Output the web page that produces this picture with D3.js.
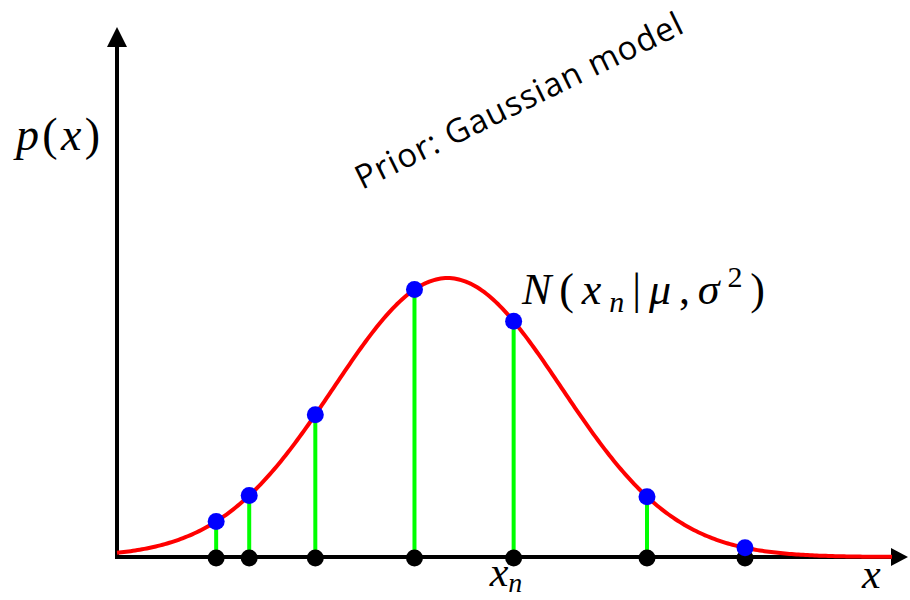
<!DOCTYPE html>
<html>
<head>
<meta charset="utf-8">
<script src="https://cdn.jsdelivr.net/npm/d3@7"></script>
<style>
  body { margin: 0; background: #fff; }
</style>
</head>
<body>
<script>
// Gaussian model parameters (in axis units)
const mu = 0;
const sigma = 1;
// sample positions x_n
const samples = [-2.03, -1.74, -1.16, -0.29, 0.58, 1.75, 2.61];
// axis extents
const xDomain = [-2.9, 4.04];
const yDomain = [0, 0.758];

const width = 910, height = 600;

const svg = d3.select("body").append("svg")
  .attr("width", width)
  .attr("height", height);

const x = d3.scaleLinear().domain(xDomain).range([117, 908]);
const y = d3.scaleLinear().domain(yDomain).range([557, 27]);

const pdf = v => Math.exp(-((v - mu) ** 2) / (2 * sigma * sigma)) / (sigma * Math.sqrt(2 * Math.PI));

// axes with arrow heads
svg.append("line")
  .attr("x1", x(xDomain[0])).attr("y1", y(0))
  .attr("x2", x(xDomain[1]) - 14).attr("y2", y(0))
  .attr("stroke", "#000").attr("stroke-width", 4);
svg.append("line")
  .attr("x1", x(xDomain[0])).attr("y1", y(0) + 2)
  .attr("x2", x(xDomain[0])).attr("y2", y(yDomain[1]) + 18)
  .attr("stroke", "#000").attr("stroke-width", 4);
const xt = x(xDomain[1]), y0 = y(0);
svg.append("path")
  .attr("d", `M${xt},${y0} L${xt - 17},${y0 - 9} L${xt - 17},${y0 + 9} Z`)
  .attr("fill", "#000");
const yt = y(yDomain[1]), x0 = x(xDomain[0]);
svg.append("path")
  .attr("d", `M${x0},${yt} L${x0 - 10},${yt + 20} L${x0 + 10},${yt + 20} Z`)
  .attr("fill", "#000");

// density curve
const grid = d3.range(xDomain[0], xDomain[1] - 0.12, 0.02);
svg.append("path")
  .datum(grid)
  .attr("fill", "none")
  .attr("stroke", "#ff0000")
  .attr("stroke-width", 4)
  .attr("d", d3.line().x(d => x(d)).y(d => y(pdf(d))));

// stems
svg.selectAll(".stem").data(samples).enter().append("line")
  .attr("class", "stem")
  .attr("x1", d => x(d)).attr("y1", y(0))
  .attr("x2", d => x(d)).attr("y2", d => y(pdf(d)))
  .attr("stroke", "#00ff00").attr("stroke-width", 4);

// samples on axis
svg.selectAll(".base").data(samples).enter().append("circle")
  .attr("class", "base")
  .attr("cx", d => x(d)).attr("cy", y(0) + 1)
  .attr("r", 8.5).attr("fill", "#000");

// samples on curve
svg.selectAll(".top").data(samples).enter().append("circle")
  .attr("class", "top")
  .attr("cx", d => x(d)).attr("cy", d => y(pdf(d)))
  .attr("r", 8.5).attr("fill", "#0000ff");

// labels
const serif = "'Liberation Serif', 'DejaVu Serif', serif";

const py = svg.append("text")
  .attr("x", 16).attr("y", 150)
  .attr("textLength", 84).attr("lengthAdjust", "spacing")
  .style("font-family", serif).style("font-size", "46px");
py.append("tspan").style("font-style", "italic").text("p");
py.append("tspan").text("(");
py.append("tspan").style("font-style", "italic").text("x");
py.append("tspan").text(")");

const nl = svg.append("text")
  .attr("x", 522).attr("y", 304)
  .attr("textLength", 243).attr("lengthAdjust", "spacing")
  .style("font-family", serif).style("font-size", "44px");
nl.append("tspan").style("font-style", "italic").text("N");
nl.append("tspan").text("(");
nl.append("tspan").style("font-style", "italic").text("x");
nl.append("tspan").style("font-style", "italic").style("font-size", "30px").attr("dy", 8).text("n");
nl.append("tspan").attr("dy", -8).text("|");
nl.append("tspan").style("font-style", "italic").text("μ");
nl.append("tspan").text(",");
nl.append("tspan").style("font-style", "italic").text("σ");
nl.append("tspan").style("font-size", "30px").attr("dy", -17).text("2");
nl.append("tspan").attr("dy", 17).text(")");

const xn = svg.append("text")
  .attr("x", x(samples[4]) - 24).attr("y", 586)
  .style("font-family", serif).style("font-size", "42px");
xn.append("tspan").style("font-style", "italic").text("x");
xn.append("tspan").style("font-style", "italic").style("font-size", "28px").attr("dy", 6).text("n");

svg.append("text")
  .attr("x", 862).attr("y", 588)
  .style("font-family", serif).style("font-size", "42px")
  .style("font-style", "italic")
  .text("x");

svg.append("text")
  .attr("transform", "translate(362,190) rotate(-26)")
  .style("font-family", "'Open Sans', 'Noto Sans', sans-serif")
  .style("font-size", "33px")
  .attr("textLength", 360)
  .text("Prior: Gaussian model");
</script>
</body>
</html>
